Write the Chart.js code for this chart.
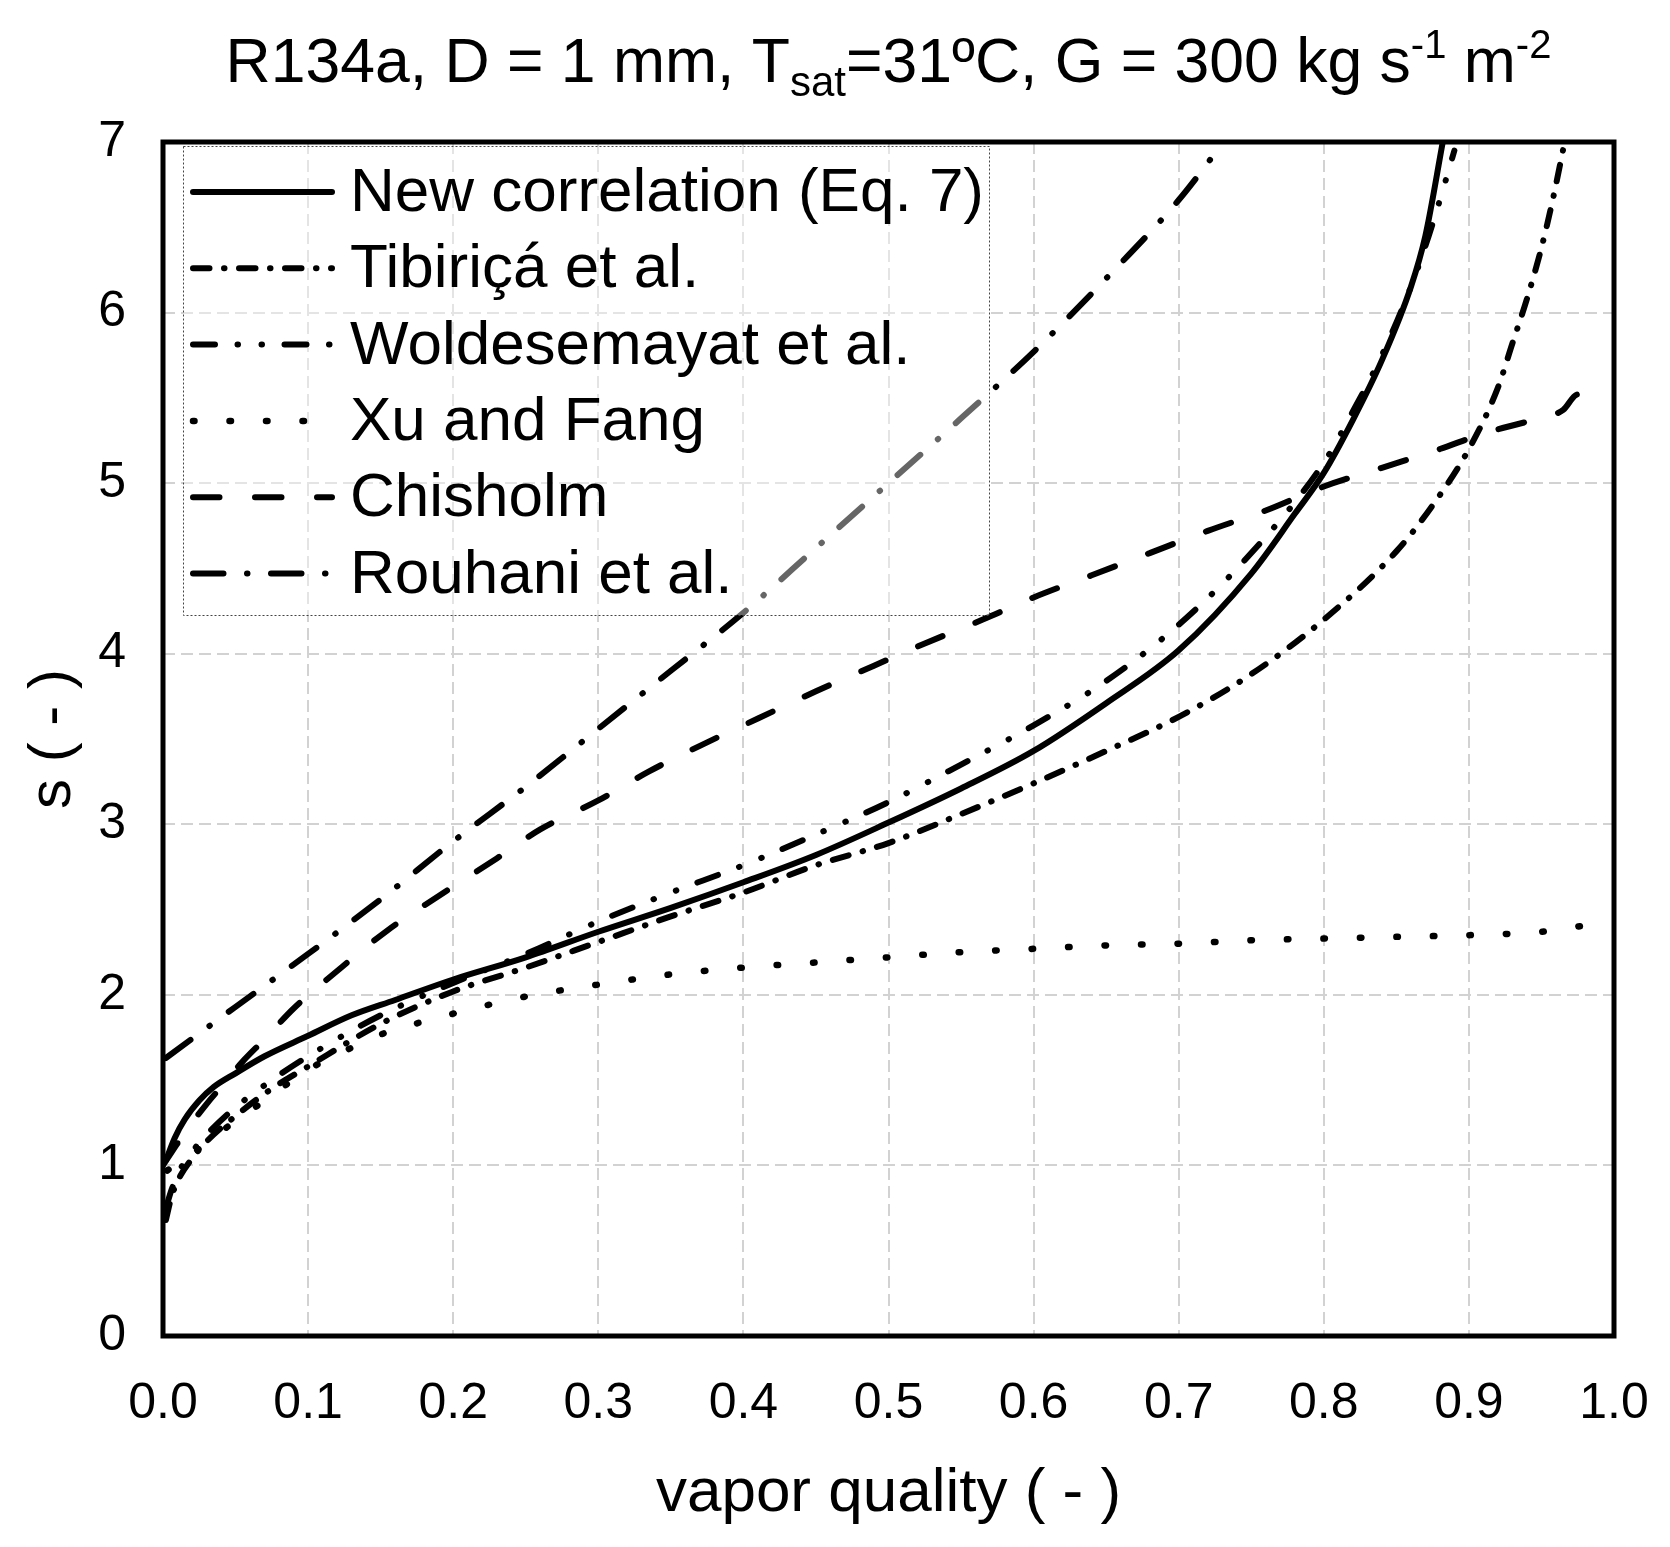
<!DOCTYPE html>
<html>
<head>
<meta charset="utf-8">
<script src="https://cdn.jsdelivr.net/npm/chart.js@4.4.1/dist/chart.umd.min.js"></script>
<style>
  html, body { margin: 0; padding: 0; background: #fff; }
  #wrap { width: 1670px; height: 1547px; }
</style>
</head>
<body>
<div id="wrap"><canvas id="slip-chart" width="1670" height="1547"></canvas></div>
<script>
const FONT = "'Liberation Sans', Arial, sans-serif";

// series: vapor quality x, slip ratio s
const newCorrX = [0.002, 0.008, 0.015, 0.025, 0.035, 0.05, 0.07, 0.1, 0.13, 0.16, 0.2, 0.25, 0.3, 0.35, 0.4, 0.45, 0.5, 0.55, 0.6, 0.65, 0.7, 0.75, 0.78, 0.8, 0.82, 0.84, 0.86, 0.87, 0.882];
const newCorrS = [1.03, 1.16, 1.27, 1.38, 1.46, 1.54, 1.64, 1.76, 1.88, 1.97, 2.09, 2.22, 2.37, 2.51, 2.66, 2.82, 3.01, 3.21, 3.43, 3.71, 4.02, 4.47, 4.82, 5.06, 5.37, 5.72, 6.15, 6.45, 7.0];

const tibiricaX = [0.002, 0.006, 0.012, 0.02, 0.03, 0.05, 0.075, 0.1, 0.15, 0.2, 0.25, 0.3, 0.35, 0.4, 0.45, 0.5, 0.55, 0.6, 0.65, 0.7, 0.75, 0.8, 0.85, 0.875, 0.9, 0.92, 0.93, 0.94, 0.95, 0.958, 0.966];
const tibiricaS = [0.68, 0.82, 0.94, 1.04, 1.14, 1.29, 1.45, 1.58, 1.83, 2.02, 2.16, 2.31, 2.46, 2.6, 2.76, 2.89, 3.06, 3.24, 3.43, 3.63, 3.88, 4.2, 4.6, 4.87, 5.2, 5.56, 5.82, 6.08, 6.38, 6.67, 7.0];

const woldeX = [0.002, 0.006, 0.012, 0.02, 0.03, 0.05, 0.075, 0.1, 0.15, 0.2, 0.25, 0.3, 0.35, 0.4, 0.45, 0.5, 0.55, 0.6, 0.65, 0.7, 0.75, 0.8, 0.82, 0.84, 0.86, 0.87, 0.88, 0.89];
const woldeS = [0.75, 0.86, 0.98, 1.08, 1.18, 1.34, 1.5, 1.64, 1.88, 2.07, 2.24, 2.43, 2.6, 2.76, 2.94, 3.13, 3.35, 3.58, 3.84, 4.17, 4.59, 5.12, 5.42, 5.75, 6.15, 6.39, 6.66, 6.95];

const xuFangX = [0.003, 0.01, 0.027, 0.045, 0.065, 0.086, 0.108, 0.13, 0.154, 0.178, 0.2, 0.25, 0.3, 0.35, 0.4, 0.45, 0.5, 0.55, 0.6, 0.65, 0.7, 0.75, 0.8, 0.85, 0.9, 0.95, 0.99];
const xuFangS = [0.97, 1.02, 1.11, 1.23, 1.35, 1.48, 1.6, 1.69, 1.78, 1.84, 1.89, 1.99, 2.06, 2.12, 2.16, 2.19, 2.22, 2.25, 2.27, 2.29, 2.3, 2.32, 2.33, 2.34, 2.35, 2.37, 2.42];

const chisholmX = [0, 0.01, 0.02, 0.03, 0.04, 0.055, 0.07, 0.09, 0.12, 0.155, 0.19, 0.23, 0.26, 0.3, 0.335, 0.37, 0.41, 0.45, 0.49, 0.525, 0.565, 0.6, 0.64, 0.68, 0.72, 0.76, 0.8, 0.84, 0.88, 0.91, 0.94, 0.955, 0.965, 0.975, 0.98];
const chisholmS = [1.0, 1.13, 1.25, 1.36, 1.46, 1.61, 1.74, 1.92, 2.14, 2.38, 2.58, 2.8, 2.97, 3.14, 3.31, 3.46, 3.62, 3.78, 3.93, 4.06, 4.2, 4.33, 4.46, 4.59, 4.72, 4.84, 4.98, 5.09, 5.2, 5.29, 5.36, 5.39, 5.43, 5.52, 5.44];

const rouhaniX = [0.002, 0.05, 0.1, 0.15, 0.2, 0.25, 0.3, 0.35, 0.4, 0.45, 0.5, 0.55, 0.6, 0.65, 0.7, 0.731];
const rouhaniS = [1.63, 1.93, 2.24, 2.56, 2.9, 3.22, 3.56, 3.9, 4.24, 4.62, 5.0, 5.38, 5.77, 6.2, 6.66, 7.0];

const seriesLabels = ['New correlation (Eq. 7)', 'Tibiriçá et al.', 'Woldesemayat et al.', 'Xu and Fang', 'Chisholm', 'Rouhani et al.'];

const titleRuns = [
    { text: 'R134a, D = 1 mm, T', size: 62.5, shift: 0 },
    { text: 'sat', size: 42, shift: 14 },
    { text: '=31ºC, G = 300 kg s', size: 62.5, shift: 0 },
    { text: '-1', size: 40, shift: -24 },
    { text: ' m', size: 62.5, shift: 0 },
    { text: '-2', size: 40, shift: -24 }
];

function toPoints(xs, ys) {
    return xs.map((x, i) => ({ x: x, y: ys[i] }));
}

function lineSet(label, xs, ys, dash, width) {
    return {
        label: label,
        data: toPoints(xs, ys),
        borderColor: '#000',
        borderWidth: width || 6,
        borderDash: dash,
        borderCapStyle: 'round',
        borderJoinStyle: 'round',
        pointRadius: 0,
        fill: false,
        cubicInterpolationMode: 'monotone'
    };
}

// frame around the plot area
const framePlugin = {
    id: 'frame',
    afterDraw(chart) {
        const { ctx, chartArea: a } = chart;
        ctx.save();
        ctx.strokeStyle = '#000';
        ctx.lineWidth = 5;
        ctx.setLineDash([]);
        ctx.strokeRect(a.left, a.top, a.right - a.left, a.bottom - a.top);
        ctx.restore();
    }
};

// legend box sitting inside the plot, top left
const boxLegendPlugin = {
    id: 'boxLegend',
    afterDatasetsDraw(chart) {
        const { ctx, chartArea: a } = chart;
        const left = a.left + 20, top = a.top + 4;
        const w = 806, h = 469;
        ctx.save();
        ctx.fillStyle = 'rgba(255,255,255,0.4)';
        ctx.fillRect(left, top, w, h);
        ctx.strokeStyle = '#444';
        ctx.lineWidth = 1;
        ctx.setLineDash([2, 2]);
        ctx.strokeRect(left + 0.5, top + 0.5, w, h);

        ctx.font = '62px ' + FONT;
        ctx.textBaseline = 'middle';
        ctx.fillStyle = '#000';
        chart.data.datasets.forEach((ds, i) => {
            const y = top + 46 + i * 76.3;
            ctx.strokeStyle = '#000';
            ctx.lineWidth = ds.borderWidth;
            ctx.lineCap = 'round';
            ctx.setLineDash(ds.borderDash);
            ctx.beginPath();
            ctx.moveTo(left + 10, y);
            ctx.lineTo(left + 149, y);
            ctx.stroke();
            ctx.fillText(ds.label, left + 167, y + 2);
        });
        ctx.restore();
    }
};

// title with subscript / superscripts
const richTitlePlugin = {
    id: 'richTitle',
    afterDraw(chart) {
        const { ctx, chartArea: a } = chart;
        ctx.save();
        ctx.fillStyle = '#000';
        ctx.textBaseline = 'alphabetic';
        let total = 0;
        titleRuns.forEach(r => {
            ctx.font = r.size + 'px ' + FONT;
            total += ctx.measureText(r.text).width;
        });
        let x = (a.left + a.right) / 2 - total / 2;
        const base = 82;
        titleRuns.forEach(r => {
            ctx.font = r.size + 'px ' + FONT;
            ctx.fillText(r.text, x, base + r.shift);
            x += ctx.measureText(r.text).width;
        });
        ctx.restore();
    }
};

Chart.defaults.font.family = FONT;
Chart.defaults.color = '#000';

const ctx = document.getElementById('slip-chart').getContext('2d');

const slipChart = new Chart(ctx, {
    type: 'line',
    data: {
        datasets: [
            lineSet(seriesLabels[0], newCorrX, newCorrS, []),
            lineSet(seriesLabels[1], tibiricaX, tibiricaS, [16.5, 14.5, 0.5, 14.5]),
            lineSet(seriesLabels[2], woldeX, woldeS, [22, 22.5, 0.5, 23.5, 0.5, 22.5]),
            lineSet(seriesLabels[3], xuFangX, xuFangS, [1.5, 35], 6.5),
            lineSet(seriesLabels[4], chisholmX, chisholmS, [26.5, 35.5]),
            lineSet(seriesLabels[5], rouhaniX, rouhaniS, [30.5, 23.5, 0.5, 23.5])
        ]
    },
    options: {
        responsive: false,
        animation: false,
        devicePixelRatio: 1,
        layout: {
            padding: { top: 142, right: 56, left: 0, bottom: 0 }
        },
        plugins: {
            legend: { display: false },
            title: { display: false },
            tooltip: { enabled: false }
        },
        scales: {
            x: {
                type: 'linear',
                min: 0,
                max: 1,
                afterFit: (scale) => {
                    scale.height = 211;
                    scale.paddingLeft = 0;
                    scale.paddingRight = 0;
                },
                ticks: {
                    stepSize: 0.1,
                    autoSkip: false,
                    maxRotation: 0,
                    padding: 38,
                    font: { size: 50 },
                    callback: (v) => Number(v).toFixed(1)
                },
                grid: { color: '#d2d2d2', lineWidth: 2, drawTicks: false },
                border: { display: false, dash: [12, 6] },
                title: {
                    display: true,
                    text: 'vapor quality ( - )',
                    font: { size: 62 },
                    padding: { top: 0, bottom: 16 }
                }
            },
            y: {
                type: 'linear',
                min: 0,
                max: 7,
                afterFit: (scale) => { scale.width = 163; },
                ticks: {
                    stepSize: 1,
                    padding: 37,
                    font: { size: 50 }
                },
                grid: { color: '#d2d2d2', lineWidth: 2, drawTicks: false },
                border: { display: false, dash: [12, 6] },
                title: {
                    display: true,
                    text: 's ( - )',
                    font: { size: 60 },
                    padding: { top: 17, bottom: 0 }
                }
            }
        }
    },
    plugins: [boxLegendPlugin, framePlugin, richTitlePlugin]
});
</script>
</body>
</html>
